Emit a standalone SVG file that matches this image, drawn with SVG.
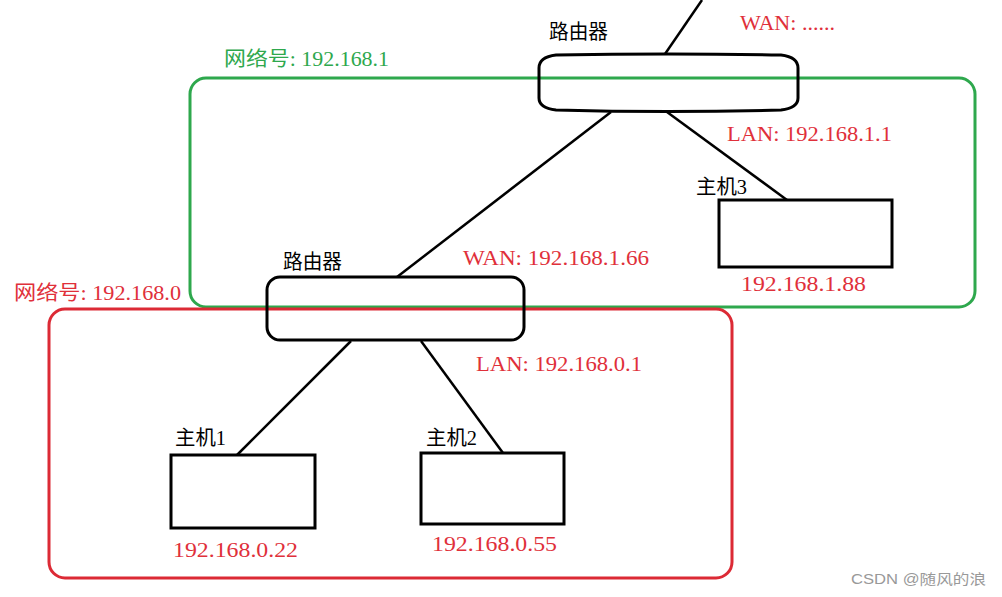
<svg xmlns="http://www.w3.org/2000/svg" width="1002" height="597" viewBox="0 0 1002 597">
<style>
.t{font-family:"Liberation Serif","Noto Sans CJK SC",serif;font-size:20px}
.k{fill:#000}
.r{fill:#e0303a}
.g{fill:#2ea84d}
.box{fill:none;stroke:#000;stroke-width:3}
.ln{stroke:#000;stroke-width:2.5;fill:none}
</style>
<rect width="1002" height="597" fill="#fff"/>
<g id="net1">
<rect x="190" y="78" width="785" height="229" rx="16" fill="none" stroke="#2ea84d" stroke-width="3"/>
<text class="t g" x="224" y="66" textLength="165" lengthAdjust="spacingAndGlyphs">网络号: 192.168.1</text>
</g>
<g id="net0">
<rect x="49" y="309" width="683" height="269" rx="16" fill="none" stroke="#dc2a35" stroke-width="3"/>
<text class="t r" x="14" y="300" textLength="167" lengthAdjust="spacingAndGlyphs">网络号: 192.168.0</text>
</g>
<g id="connectors">
<line class="ln" x1="665" y1="54" x2="702" y2="0"/>
<line class="ln" x1="611" y1="112" x2="397" y2="277"/>
<line class="ln" x1="667" y1="112" x2="787" y2="200"/>
<line class="ln" x1="351" y1="341" x2="237" y2="455"/>
<line class="ln" x1="421" y1="341" x2="503" y2="453"/>
</g>
<g id="router1">
<path class="box" d="M556 55 Q668 53 781 55 Q798 57 798 68 L798 98 Q798 108 781 110 Q668 113 556 110 Q539 108 539 98 L539 68 Q539 57 556 55 Z"/>
<text class="t k" x="549" y="39" textLength="59" lengthAdjust="spacingAndGlyphs">路由器</text>
<text class="t r" x="740" y="30" textLength="95" lengthAdjust="spacingAndGlyphs">WAN: ......</text>
<text class="t r" x="727" y="141" textLength="165" lengthAdjust="spacingAndGlyphs">LAN: 192.168.1.1</text>
</g>
<g id="router2">
<rect class="box" x="267" y="277" width="257" height="63" rx="13"/>
<text class="t k" x="283" y="269" textLength="59" lengthAdjust="spacingAndGlyphs">路由器</text>
<text class="t r" x="463" y="265" textLength="186" lengthAdjust="spacingAndGlyphs">WAN: 192.168.1.66</text>
<text class="t r" x="476" y="371" textLength="166" lengthAdjust="spacingAndGlyphs">LAN: 192.168.0.1</text>
</g>
<g id="host3">
<rect class="box" x="719" y="200" width="173" height="67"/>
<text class="t k" x="696" y="194" textLength="51" lengthAdjust="spacingAndGlyphs">主机3</text>
<text class="t r" x="741" y="291" textLength="125" lengthAdjust="spacingAndGlyphs">192.168.1.88</text>
</g>
<g id="host1">
<rect class="box" x="171" y="455" width="144" height="73"/>
<text class="t k" x="175" y="445" textLength="51" lengthAdjust="spacingAndGlyphs">主机1</text>
<text class="t r" x="173" y="557" textLength="125" lengthAdjust="spacingAndGlyphs">192.168.0.22</text>
</g>
<g id="host2">
<rect class="box" x="421" y="453" width="143" height="71"/>
<text class="t k" x="426" y="445" textLength="51" lengthAdjust="spacingAndGlyphs">主机2</text>
<text class="t r" x="432" y="551" textLength="125" lengthAdjust="spacingAndGlyphs">192.168.0.55</text>
</g>
<text x="851" y="584" font-family="'Liberation Sans','Noto Sans CJK SC',sans-serif" font-size="14" fill="#999" textLength="135" lengthAdjust="spacingAndGlyphs">CSDN @随风的浪</text>
</svg>
